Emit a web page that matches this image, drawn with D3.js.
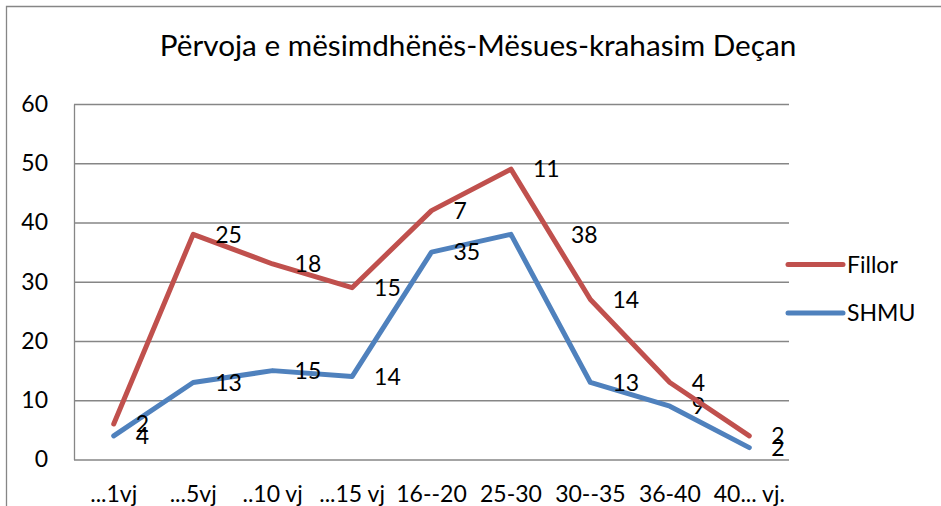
<!DOCTYPE html>
<html>
<head>
<meta charset="utf-8">
<script src="https://cdn.jsdelivr.net/npm/d3@7"></script>
<style>
  body { margin: 0; background: #fff; }
  svg { display: block; font-family: Lato, 'Open Sans', sans-serif; }
</style>
</head>
<body>
<div id="chart"></div>
<script>
// categories on the x axis
const categories = ['...1vj', '...5vj', '..10 vj', '...15 vj', '16--20', '25-30', '30--35', '36-40', '40... vj.']
// series values (stacked line: SHMU at the bottom, Fillor on top)
const shmu = [4, 13, 15, 14, 35, 38, 13, 9, 2]
const fillor = [2, 25, 18, 15, 7, 11, 14, 4, 2]
const seriesNames = ['SHMU', 'Fillor']
const yTicks = [0, 10, 20, 30, 40, 50, 60]
const title = 'Përvoja e mësimdhënës-Mësues-krahasim Deçan'

const width = 941
const height = 506
const plot = { left: 74, right: 789, top: 104, bottom: 459.5 }
const colors = { Fillor: '#C0504D', SHMU: '#4F81BD' }
const gridColor = '#868686'

const svg = d3.select('#chart').append('svg')
  .attr('width', width)
  .attr('height', height)

// chart frame (only left and top edges show in the picture)
svg.append('path')
  .attr('d', `M6.5,${height} V6.5 H${width}`)
  .attr('fill', 'none')
  .attr('stroke', gridColor)
  .attr('stroke-width', 1.3)

svg.append('text')
  .attr('x', 478)
  .attr('y', 56)
  .attr('text-anchor', 'middle')
  .attr('font-size', 29.7)
  .attr('fill', '#000')
  .text(title)

const x = d3.scaleBand().domain(categories).range([plot.left, plot.right])
const y = d3.scaleLinear().domain([0, 60]).range([plot.bottom, plot.top])
const cx = c => x(c) + x.bandwidth() / 2

// y axis with gridlines
const yAxis = svg.append('g')
  .attr('transform', `translate(${plot.left},0)`)
  .call(d3.axisLeft(y)
    .tickValues(yTicks)
    .tickSizeInner(-(plot.right - plot.left))
    .tickSizeOuter(0)
    .tickPadding(26))
yAxis.select('.domain').attr('stroke', gridColor).attr('stroke-width', 1.3)
yAxis.selectAll('.tick line').attr('stroke', gridColor).attr('stroke-width', 1.3)
yAxis.selectAll('.tick text')
  .attr('font-size', 23)
  .attr('font-family', 'Lato, sans-serif')
  .attr('fill', '#000')

// x axis labels
const xAxis = svg.append('g')
  .attr('transform', `translate(0,${plot.bottom})`)
  .call(d3.axisBottom(x).tickSize(0).tickPadding(26))
xAxis.select('.domain').remove()
xAxis.selectAll('.tick text')
  .attr('font-size', 23)
  .attr('font-family', 'Lato, sans-serif')
  .attr('fill', '#000')

// stacked data
const rows = categories.map((c, i) => ({ cat: c, SHMU: shmu[i], Fillor: fillor[i] }))
const stacked = d3.stack().keys(seriesNames)(rows)

const line = d3.line()
  .x(d => cx(d.data.cat))
  .y(d => y(d[1]))

const series = svg.append('g')
  .selectAll('g')
  .data(stacked)
  .join('g')

series.append('path')
  .attr('d', line)
  .attr('fill', 'none')
  .attr('stroke', d => colors[d.key])
  .attr('stroke-width', 5)
  .attr('stroke-linejoin', 'round')
  .attr('stroke-linecap', 'round')

// data labels to the right of each point, showing the series own value
series.selectAll('text')
  .data(s => s.map((d, i) => ({ key: s.key, i, d })))
  .join('text')
  .attr('x', p => cx(p.d.data.cat) + 22 + (p.key === 'SHMU' && p.i === 5 ? 38 : 0)) // this one was dragged aside
  .attr('y', p => y(p.d[1]))
  .attr('dy', '0.36em')
  .attr('font-size', 23)
  .attr('fill', '#000')
  .text(p => p.d.data[p.key])

// legend
const legend = svg.append('g')
  .selectAll('g')
  .data(['Fillor', 'SHMU'])
  .join('g')
  .attr('transform', (d, i) => `translate(788,${264.5 + i * 48.5})`)

legend.append('line')
  .attr('x1', 0)
  .attr('x2', 55)
  .attr('stroke', d => colors[d])
  .attr('stroke-width', 5)
  .attr('stroke-linecap', 'round')

legend.append('text')
  .attr('x', 59)
  .attr('dy', '0.36em')
  .attr('font-size', 23)
  .attr('fill', '#000')
  .text(d => d)
</script>
</body>
</html>
